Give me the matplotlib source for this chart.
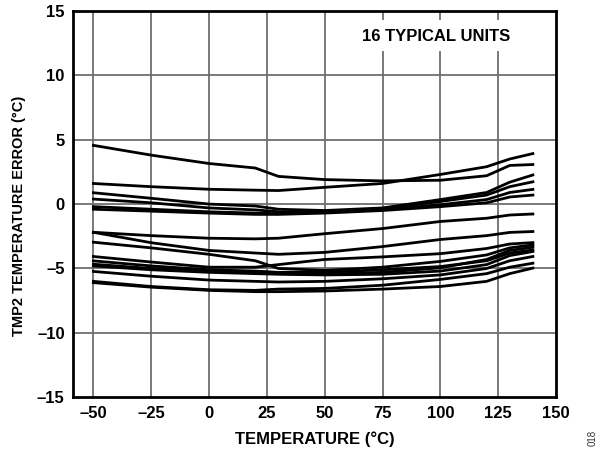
import matplotlib
matplotlib.use("Agg")
import matplotlib.pyplot as plt

temps = [-50, -25, 0, 20, 30, 50, 75, 100, 120, 130, 140]

unit_a = [4.56, 3.8, 3.15, 2.8, 2.15, 1.9, 1.8, 1.85, 2.2, 3.0, 3.07]
unit_b = [1.6, 1.35, 1.15, 1.08, 1.05, 1.3, 1.6, 2.3, 2.9, 3.5, 3.92]
unit_c = [0.88, 0.45, 0.0, -0.15, -0.4, -0.5, -0.3, 0.35, 0.9, 1.7, 2.26]
unit_d = [0.39, 0.1, -0.3, -0.45, -0.6, -0.6, -0.35, 0.2, 0.7, 1.35, 1.73]
unit_e = [-0.2, -0.4, -0.6, -0.7, -0.75, -0.6, -0.4, -0.05, 0.35, 0.9, 1.14]
unit_f = [-0.4, -0.55, -0.7, -0.8, -0.8, -0.7, -0.5, -0.2, 0.1, 0.55, 0.70]
unit_g = [-2.19, -2.45, -2.65, -2.7, -2.65, -2.3, -1.9, -1.35, -1.1, -0.85, -0.77]
unit_h = [-2.19, -3.0, -3.6, -3.8, -3.9, -3.75, -3.3, -2.75, -2.45, -2.2, -2.13]
unit_i = [-2.96, -3.4, -3.9, -4.4, -5.0, -5.15, -4.9, -4.45, -3.95, -3.4, -3.17]
unit_j = [-4.07, -4.5, -4.9, -4.9, -4.7, -4.3, -4.1, -3.85, -3.45, -3.1, -2.99]
unit_k = [-4.41, -4.8, -5.1, -5.2, -5.3, -5.3, -5.1, -4.85, -4.4, -3.8, -3.56]
unit_l = [-4.67, -5.0, -5.2, -5.3, -5.4, -5.45, -5.3, -4.95, -4.3, -3.6, -3.35]
unit_m = [-4.8, -5.1, -5.3, -5.4, -5.45, -5.5, -5.45, -5.2, -4.7, -4.0, -3.68]
unit_n = [-5.23, -5.6, -5.9, -6.0, -6.05, -6.0, -5.8, -5.5, -5.0, -4.4, -4.07]
unit_o = [-6.0, -6.4, -6.65, -6.7, -6.6, -6.55, -6.3, -5.85, -5.4, -4.9, -4.59]
unit_p = [-6.1, -6.45, -6.7, -6.8, -6.8, -6.75, -6.6, -6.4, -6.0, -5.4, -4.97]

units = [unit_a, unit_b, unit_c, unit_d, unit_e, unit_f, unit_g, unit_h,
         unit_i, unit_j, unit_k, unit_l, unit_m, unit_n, unit_o, unit_p]

x_ticks = [-50, -25, 0, 25, 50, 75, 100, 125, 150]
y_ticks = [-15, -10, -5, 0, 5, 10, 15]

def lab(v):
    return ("\u2013" + str(abs(v))) if v < 0 else str(v)

plt.rcParams['font.family'] = ['Liberation Sans', 'DejaVu Sans']

fig = plt.figure(figsize=(6.0, 4.53), dpi=100)
ax = fig.add_axes([0.1217, 0.123, 0.805, 0.853])
ax.set_xlim(-58.8, 150)
ax.set_ylim(-15, 15)

grid_col = '#6e6e6e'
for yv in y_ticks[1:-1]:
    ax.axhline(yv, color=grid_col, lw=1.3, zorder=1)
for xv in x_ticks[:-1]:
    top = 11.9 if xv in (75, 100, 125) else 15
    ax.vlines(xv, -15, top, color=grid_col, lw=1.3, zorder=1)
    if xv in (75, 100, 125):
        ax.vlines(xv, 14.3, 15, color=grid_col, lw=1.3, zorder=1)

for u in units:
    ax.plot(temps, u, color='black', lw=2.0, solid_joinstyle='round', zorder=3)

ax.set_xticks(x_ticks)
ax.set_xticklabels([lab(v) for v in x_ticks], fontsize=12, fontweight='bold')
ax.set_yticks(y_ticks)
ax.set_yticklabels([lab(v) for v in y_ticks], fontsize=12, fontweight='bold')
ax.tick_params(length=0, pad=6)

for s in ax.spines.values():
    s.set_linewidth(2.0)
    s.set_color('black')

ax.text(98, 13.0, "16 TYPICAL UNITS", fontsize=12, fontweight='bold',
        ha='center', va='center')

ax.set_xlabel("TEMPERATURE (\u00b0C)", fontsize=12, fontweight='bold', labelpad=8)
ax.set_ylabel("TMP2 TEMPERATURE ERROR (\u00b0C)", fontsize=10.5, fontweight='bold')
ax.yaxis.set_label_coords(-0.097, 0.47)

fig.text(0.988, 0.015, "018", rotation=90, fontsize=7, ha='center', va='bottom', color='#333333')

fig.savefig("out.png", dpi=100)
